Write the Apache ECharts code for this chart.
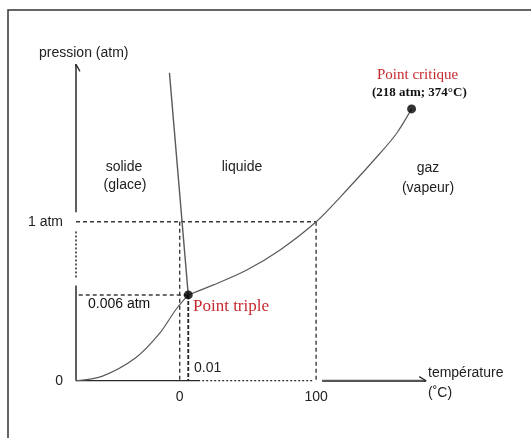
<!DOCTYPE html>
<html>
<head>
<meta charset="utf-8">
<script src="https://cdn.jsdelivr.net/npm/echarts@6/dist/echarts.min.js"></script>
<style>html,body{margin:0;padding:0;background:#fff}#c{width:531px;height:438px}</style>
</head>
<body>
<div id="c"></div>
<script>
// ---- Data (schematic units: x = temperature scale where 0 = 0°C, 100 = 100°C; y = pressure scale where 100 = 1 atm) ----
const xTickValues = [0, 100];
const xTickLabels = ['0', '100'];
const yTickValues = [0, 100];
const yTickLabels = ['0', '1 atm'];

const axisOriginX = -76;
const axisEndX = 180.6;
const axisEndY = 199;

const sublimationCurve = [[-76, 0], [-57, 2.8], [-32.2, 14.5], [-14.9, 29.6], [-2.6, 45], [6.3, 54]];
const vaporizationCurve = [[6.3, 54], [24.8, 60.3], [49.2, 69.7], [73.6, 82.3], [100, 100], [122.5, 120], [146.9, 143.1], [159.1, 155.7], [170, 171]];
const fusionLine = [[6.3, 54], [-7.5, 193.7]];
const triplePoint = [6.3, 54];
const criticalPoint = [170, 171];
const oneAtm = 100;
const boilingT = 100;
const freezingT = 0;

// ---- Chart ----
const chart = echarts.init(document.getElementById('c'), null, {renderer: 'canvas'});
const ink = '#2a2a2a';
const curveColor = '#5a5a5a';
const sans = '"Liberation Sans", Arial, sans-serif';
const serif = '"Liberation Serif", "Times New Roman", serif';

function seg(data, opts) {
  return Object.assign({
    type: 'line', data: data, showSymbol: false, symbol: 'none', silent: true,
    animation: false, lineStyle: {color: ink, width: 1.5, type: 'solid'}
  }, opts || {});
}
const dashed = {color: '#3a3a3a', width: 1.4, type: [4, 3]};

const series = [
  // y axis (solid / dotted / solid) with open arrow
  seg([[axisOriginX, 0], [axisOriginX, 60]]),
  seg([[axisOriginX, 65], [axisOriginX, 94]], {lineStyle: {color: ink, width: 1.5, type: [2, 2]}}),
  seg([[axisOriginX, 106], [axisOriginX, axisEndY]]),
  seg([[axisOriginX - 2.9, axisEndY - 4.4], [axisOriginX, axisEndY], [axisOriginX + 2.9, axisEndY - 4.4]], {lineStyle: {color: ink, width: 1.3}}),
  // x axis (solid / dotted / solid) with open arrow
  seg([[axisOriginX, 0], [15, 0]]),
  seg([[16.5, 0], [97.5, 0]], {lineStyle: {color: ink, width: 1.5, type: [2, 2]}}),
  seg([[104.4, 0], [axisEndX, 0]], {lineStyle: {color: '#555', width: 2.2}}),
  seg([[axisEndX - 5, 2.6], [axisEndX, 0], [axisEndX - 5, -2.6]], {lineStyle: {color: ink, width: 1.3}}),
  // guide lines
  seg([[axisOriginX, oneAtm], [boilingT, oneAtm]], {lineStyle: dashed}),
  seg([[boilingT, oneAtm], [boilingT, 0]], {lineStyle: dashed}),
  seg([[freezingT, oneAtm], [freezingT, 0]], {lineStyle: dashed}),
  seg([[axisOriginX + 2, triplePoint[1]], triplePoint], {lineStyle: dashed}),
  seg([triplePoint, [triplePoint[0], 0]], {lineStyle: {color: '#222', width: 1.8, type: [4, 2]}}),
  // phase boundaries
  seg(sublimationCurve, {smooth: 0.3, lineStyle: {color: curveColor, width: 1.2}}),
  seg(vaporizationCurve, {smooth: 0.3, lineStyle: {color: curveColor, width: 1.2}}),
  seg(fusionLine, {lineStyle: {color: curveColor, width: 1.4}}),
  // points
  {type: 'scatter', data: [triplePoint, criticalPoint], symbol: 'circle', symbolSize: 9,
   itemStyle: {color: '#000'}, silent: true, animation: false, z: 5}
];

function txt(text, x, y, font, fill, align) {
  return {type: 'text', x: x, y: y, silent: true, z: 10,
    style: {text: text, font: font, fill: fill || '#222', align: align || 'left', verticalAlign: 'middle'}};
}

chart.setOption({
  backgroundColor: '#fff',
  animation: false,
  grid: {left: 76, right: 104.4, top: 62.8, bottom: 57.2, containLabel: false},
  xAxis: {
    type: 'value', min: axisOriginX, max: 181,
    axisLine: {show: false}, axisTick: {show: false}, splitLine: {show: false},
    axisLabel: {
      customValues: xTickValues, margin: 9, color: '#222', fontSize: 14, fontFamily: sans,
      formatter: function (v) { return xTickLabels[xTickValues.indexOf(v)]; }
    }
  },
  yAxis: {
    type: 'value', min: 0, max: 200,
    axisLine: {show: false}, axisTick: {show: false}, splitLine: {show: false},
    axisLabel: {
      customValues: yTickValues, margin: 13, color: '#222', fontSize: 14, fontFamily: sans,
      formatter: function (v) { return yTickLabels[yTickValues.indexOf(v)]; }
    }
  },
  graphic: [
    {type: 'rect', shape: {x: 8, y: 10, width: 560, height: 460}, silent: true, z: -1,
     style: {fill: 'none', stroke: '#333', lineWidth: 1.5}},
    txt('pression (atm)', 39, 53, '14px ' + sans),
    txt('solide', 124, 167, '14px ' + sans, '#222', 'center'),
    txt('(glace)', 125, 185.5, '14px ' + sans, '#222', 'center'),
    txt('liquide', 242, 167.5, '14px ' + sans, '#222', 'center'),
    txt('gaz', 428, 168, '14px ' + sans, '#222', 'center'),
    txt('(vapeur)', 428, 188, '14px ' + sans, '#222', 'center'),
    txt('Point critique', 377, 75, '15px ' + serif, '#c62a2f'),
    txt('(218 atm; 374°C)', 372, 93, 'bold 13px ' + serif, '#111'),
    txt('0.006 atm', 88, 304, '14px ' + sans, '#111'),
    txt('Point triple', 193, 307, '17px ' + serif, '#c62a2f'),
    txt('0.01', 194, 368, '14px ' + sans),
    txt('température', 428, 373, '14px ' + sans),
    txt('(˚C)', 428, 393, '14px ' + sans)
  ],
  series: series
});
</script>
</body>
</html>
